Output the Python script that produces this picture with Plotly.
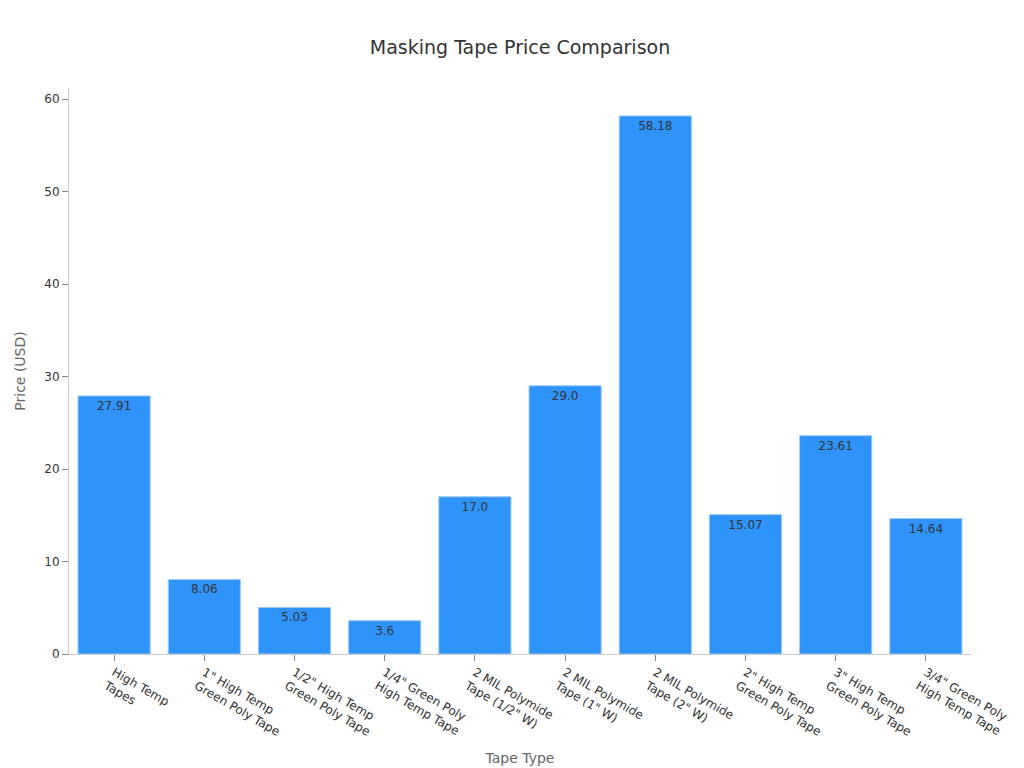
import plotly.graph_objects as go

categories = ["High Temp<br>Tapes", "1\" High Temp<br>Green Poly Tape", "1/2\" High Temp<br>Green Poly Tape",
              "1/4\" Green Poly<br>High Temp Tape", "2 MIL Polymide<br>Tape (1/2\" W)", "2 MIL Polymide<br>Tape (1\" W)",
              "2 MIL Polymide<br>Tape (2\" W)", "2\" High Temp<br>Green Poly Tape", "3\" High Temp<br>Green Poly Tape",
              "3/4\" Green Poly<br>High Temp Tape"]
prices = [27.91, 8.06, 5.03, 3.6, 17.0, 29.0, 58.18, 15.07, 23.61, 14.64]
labels = ["27.91", "8.06", "5.03", "3.6", "17.0", "29.0", "58.18", "15.07", "23.61", "14.64"]

fig = go.Figure(go.Bar(
    x=categories, y=prices, text=labels, textposition="inside", insidetextanchor="end",
    textfont=dict(color="#333333", size=12),
    marker=dict(color="#2E93FA", line=dict(color="#9CC9F5", width=1)),
))
fig.update_layout(
    width=1024, height=768,
    font=dict(family="DejaVu Sans", color="#333333", size=12),
    title=dict(text="Masking Tape Price Comparison", x=0.5, y=0.957, font=dict(size=19, color="#333333")),
    plot_bgcolor="white", paper_bgcolor="white",
    margin=dict(l=61, r=61, t=80, b=120),
    bargap=0.2,
    xaxis=dict(title=dict(text="Tape Type", font=dict(color="#666666", size=14)), tickangle=30,
               showline=True, linecolor="#cccccc", ticks="outside", tickcolor="#888888", ticklen=6),
    yaxis=dict(title=dict(text="Price (USD)", font=dict(color="#666666", size=14)), range=[0, 61.2],
               showline=True, linecolor="#cccccc", ticks="outside", tickcolor="#888888", ticklen=6,
               showgrid=False, zeroline=False, dtick=10),
    uniformtext=dict(minsize=12, mode="show"),
)
fig.write_html("out.html")
